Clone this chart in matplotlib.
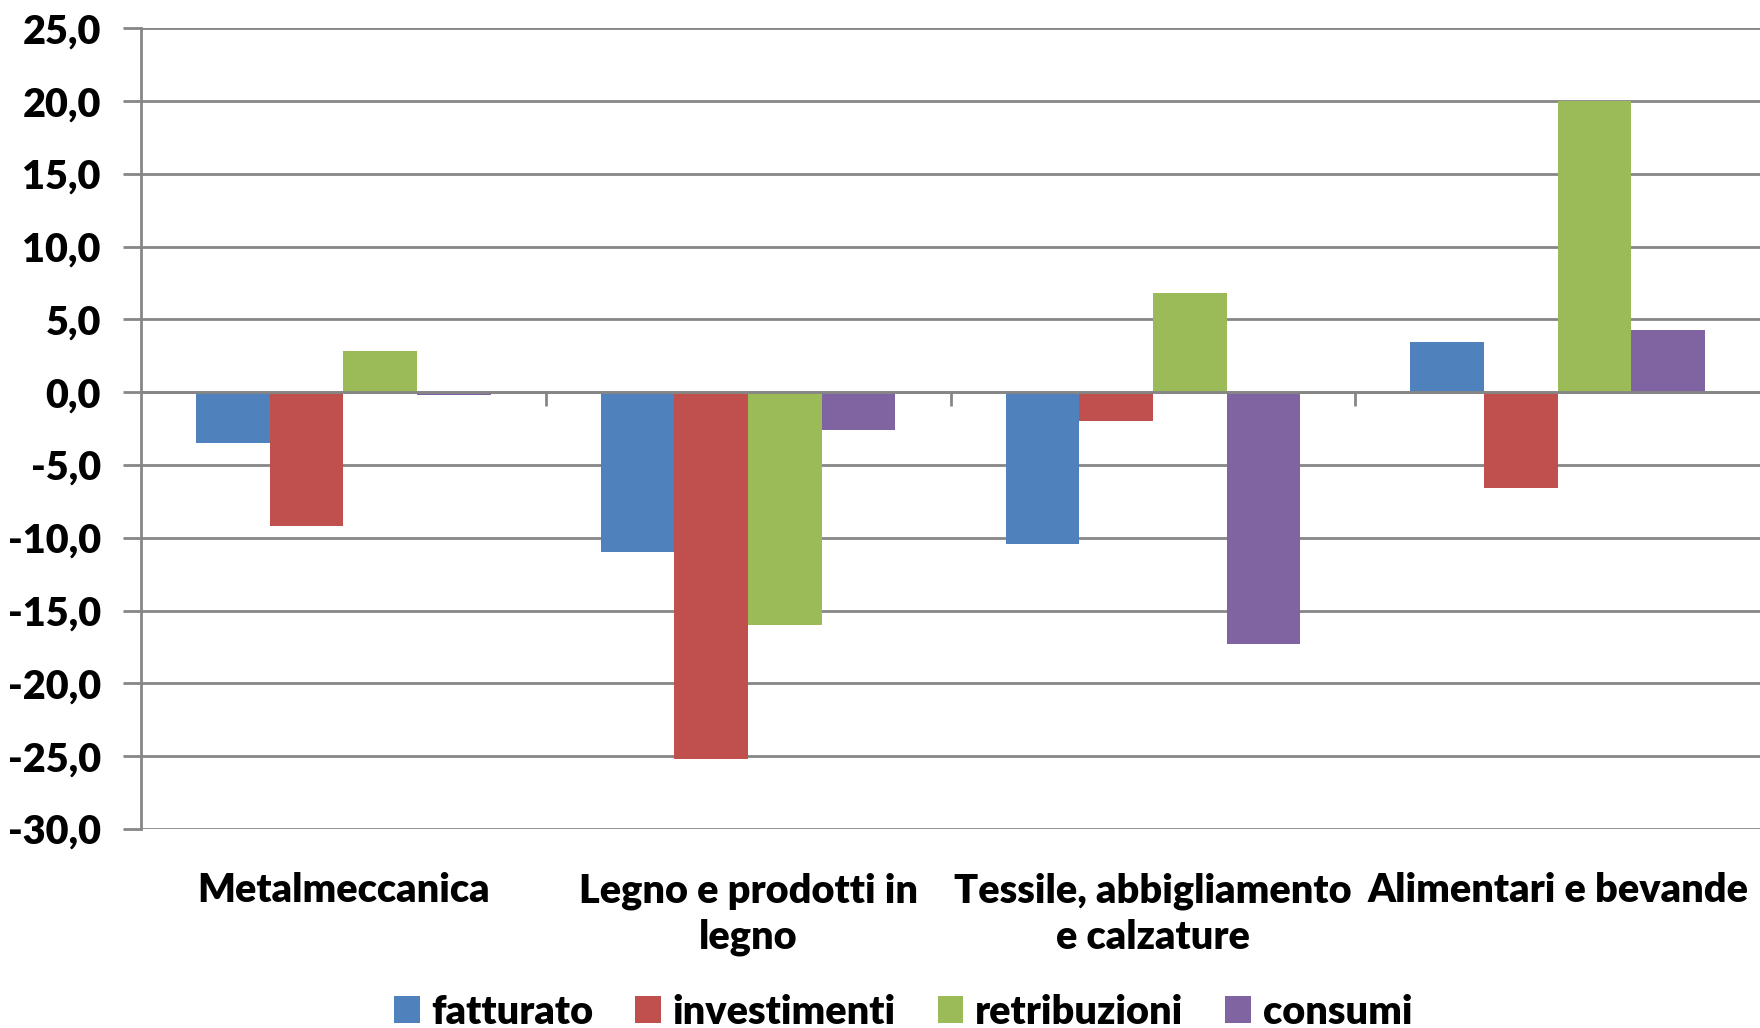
import matplotlib
matplotlib.use("Agg")
import matplotlib.pyplot as plt
import numpy as np
from matplotlib.ticker import FuncFormatter, FixedLocator

categories = ["Metalmeccanica", "Legno e prodotti in\nlegno",
              "Tessile, abbigliamento\ne calzature", "Alimentari e bevande"]
series_names = ["fatturato", "investimenti", "retribuzioni", "consumi"]
fatturato = [-3.5, -11.0, -10.4, 3.45]
investimenti = [-9.2, -25.2, -1.95, -6.6]
retribuzioni = [2.85, -16.0, 6.8, 20.0]
consumi = [-0.2, -2.6, -17.3, 4.3]
colors = ["#4F81BD", "#C0504D", "#9BBB59", "#8064A2"]
yticks = [25, 20, 15, 10, 5, 0, -5, -10, -15, -20, -25, -30]

plt.rcParams['font.family'] = ['Lato', 'DejaVu Sans']
WEIGHT = 'heavy'
plt.rcParams['font.weight'] = WEIGHT
FS = 28.5

W, H = 1760, 1028
fig = plt.figure(figsize=(W / 100, H / 100), dpi=100)
ax = fig.add_axes([141 / W, 1 - 829 / H, 1 - 141 / W, (829 - 28.3) / H])

x = np.arange(len(categories))
bw = 0.182
data = [fatturato, investimenti, retribuzioni, consumi]
for i, (name, vals, c) in enumerate(zip(series_names, data, colors)):
    ax.bar(x + (i - 1.5) * bw, vals, width=bw, color=c, label=name, zorder=3)

ax.set_xlim(-0.5, 3.5)
ax.set_ylim(-30, 25)
ax.set_yticks(yticks)
ax.yaxis.set_major_formatter(FuncFormatter(lambda v, p: f"{v:.1f}".replace(".", ",")))
ax.grid(axis='y', color='#868686', linewidth=2, zorder=0)
ax.tick_params(axis='y', length=13, width=2, color='#868686', pad=16,
               labelsize=FS)
for lab in ax.get_yticklabels():
    lab.set_fontweight(WEIGHT)

for s in ['top', 'right']:
    ax.spines[s].set_visible(False)
ax.spines['left'].set_color('#868686')
ax.spines['left'].set_linewidth(2)
ax.spines['bottom'].set_position(('data', 0))
ax.spines['bottom'].set_color('#868686')
ax.spines['bottom'].set_linewidth(2)
ax.spines['bottom'].set_zorder(4)
ax.xaxis.set_major_locator(FixedLocator([0.5, 1.5, 2.5]))
ax.tick_params(axis='x', length=10, width=2, color='#868686', labelbottom=False)

trans = matplotlib.transforms.blended_transform_factory(ax.transData, ax.transAxes)
for i, cat in enumerate(categories):
    ax.text(x[i], -0.054, cat, transform=trans, ha='center', va='top',
            fontsize=FS, fontweight=WEIGHT, linespacing=1.3)

handles, labels = ax.get_legend_handles_labels()
fig.legend(handles, labels, loc='center', bbox_to_anchor=(903 / W, 1 - 1012 / H),
           ncol=4, frameon=False, handlelength=0.65, handleheight=0.65,
           handletextpad=0.3, columnspacing=1.05, prop={'weight': WEIGHT, 'size': FS})

fig.savefig("out.png", dpi=100)
